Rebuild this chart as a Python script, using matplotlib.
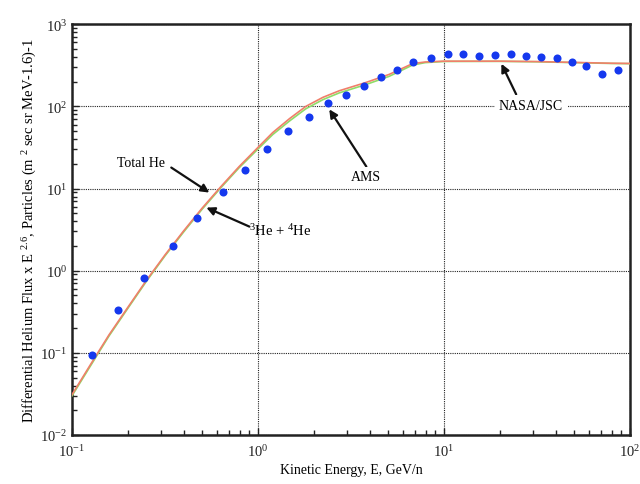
import math
import matplotlib
matplotlib.use("Agg")
import matplotlib.pyplot as plt
from matplotlib.ticker import LogLocator, FuncFormatter, NullFormatter

# ---- data ----
ams_energy = [0.128, 0.177, 0.245, 0.351, 0.472, 0.65, 0.855, 1.12, 1.46, 1.89,
              2.39, 2.98, 3.73, 4.6, 5.6, 6.84, 8.55, 10.5, 12.7, 15.5, 18.9,
              23.0, 27.7, 33.4, 40.6, 49.0, 58.2, 71.0, 86.5]
ams_flux = [0.095, 0.33, 0.82, 2.0, 4.4, 9.2, 17, 30, 49.5, 75,
            109, 136, 175, 226, 275, 344, 385, 431, 431, 408, 419,
            431, 408, 396, 385, 344, 308, 245, 275]

curve_energy = [0.1, 0.126, 0.158, 0.2, 0.251, 0.316, 0.398, 0.501, 0.631, 0.794,
                1.0, 1.2, 1.48, 1.81, 2.24, 2.74, 3.8, 5.08, 6.78, 7.94,
                10, 20, 31.6, 50, 79.4, 100]
total_he = [0.031, 0.0726, 0.165, 0.36, 0.76, 1.55, 3.04, 5.77, 10.5, 18.6,
            31.6, 47.9, 71, 100, 129, 155, 195, 245, 331, 347,
            355, 355, 351, 343, 335, 333]
he3_he4 = [0.030, 0.070, 0.160, 0.35, 0.74, 1.51, 2.95, 5.6, 10.2, 18.0,
           30.2, 45.3, 66.5, 93.5, 121, 146, 184, 232, 318, 341,
           352, 353, 349, 341, 333, 331]

xticks = [0.1, 1, 10, 100]
yticks = [0.01, 0.1, 1, 10, 100, 1000]

plt.rcParams['font.family'] = ['Liberation Serif', 'DejaVu Serif']
plt.rcParams['mathtext.fontset'] = 'custom'
plt.rcParams['mathtext.rm'] = 'Liberation Serif'
plt.rcParams['mathtext.it'] = 'Liberation Serif:italic'
plt.rcParams['mathtext.bf'] = 'Liberation Serif:bold'

fig = plt.figure(figsize=(6.4, 4.85), dpi=100)
ax = fig.add_axes([0.1125, 0.101, 0.8715, 0.847])

ax.set_xscale('log')
ax.set_yscale('log')
ax.set_xlim(0.1, 100)
ax.set_ylim(0.01, 1000)

ax.plot(curve_energy, he3_he4, color='#8fdc68', lw=1.2, zorder=3)
ax.plot(curve_energy, total_he, color='#f07f6a', lw=1.2, zorder=4)
ax.plot(ams_energy, ams_flux, 'o', color='#1538ee', markersize=5.8,
        markeredgewidth=0, zorder=5)

ax.set_xticks(xticks)
ax.set_yticks(yticks)


def fmt(v, pos):
    e = int(round(math.log10(v)))
    return r'$10^{%d}$' % e


ax.xaxis.set_major_formatter(FuncFormatter(fmt))
ax.yaxis.set_major_formatter(FuncFormatter(fmt))
ax.xaxis.set_minor_locator(LogLocator(base=10, subs=range(2, 10)))
ax.yaxis.set_minor_locator(LogLocator(base=10, subs=range(2, 10)))
ax.xaxis.set_minor_formatter(NullFormatter())
ax.yaxis.set_minor_formatter(NullFormatter())

ax.tick_params(which='both', direction='in', top=False, right=False,
               labelsize=10.5, width=1.0, colors='#222222')
ax.tick_params(which='major', length=5)
ax.tick_params(which='minor', length=3.5)
ax.tick_params(axis='x', pad=6)

ax.grid(True, which='major', color='#222222', linestyle=(0, (1, 1)), lw=0.8)
for s in ax.spines.values():
    s.set_linewidth(1.8)
    s.set_color('#222222')

ax.set_xlabel('Kinetic Energy, E, GeV/n', fontsize=10, labelpad=3)
ax.set_ylabel(r'Differential Helium Flux x E $^{2.6}$, Particles (m $^{2}$ sec sr MeV-1.6)-1',
              fontsize=10.5, labelpad=1)

arrow = dict(arrowstyle='-|>', color='#111111', lw=1.6, mutation_scale=12,
             shrinkA=0, shrinkB=0)

# Total He
ax.text(0.236, 20.7, 'Total He', fontsize=10, ha='center', va='center')
ax.annotate('', xy=(0.548, 8.93), xytext=(0.342, 18.0), arrowprops=arrow)

# 3He + 4He
ax.annotate('', xy=(0.528, 5.86), xytext=(0.90, 3.44), arrowprops=arrow)
ax.text(0.90, 3.1, r'$^{3}$He + $^{4}$He', fontsize=10.5, ha='left', va='center')

# AMS
ax.text(3.82, 14.0, 'AMS', fontsize=10, ha='center', va='center',
        bbox=dict(facecolor='white', edgecolor='none', pad=2), zorder=6)
ax.annotate('', xy=(2.42, 92), xytext=(3.83, 18.5), arrowprops=arrow)

# NASA/JSC
ax.text(29.4, 103, 'NASA/JSC', fontsize=10, ha='center', va='center',
        bbox=dict(facecolor='white', edgecolor='none', pad=3), zorder=6)
ax.annotate('', xy=(20.4, 330), xytext=(24.5, 140), arrowprops=arrow)

fig.savefig('out.png', dpi=100)
